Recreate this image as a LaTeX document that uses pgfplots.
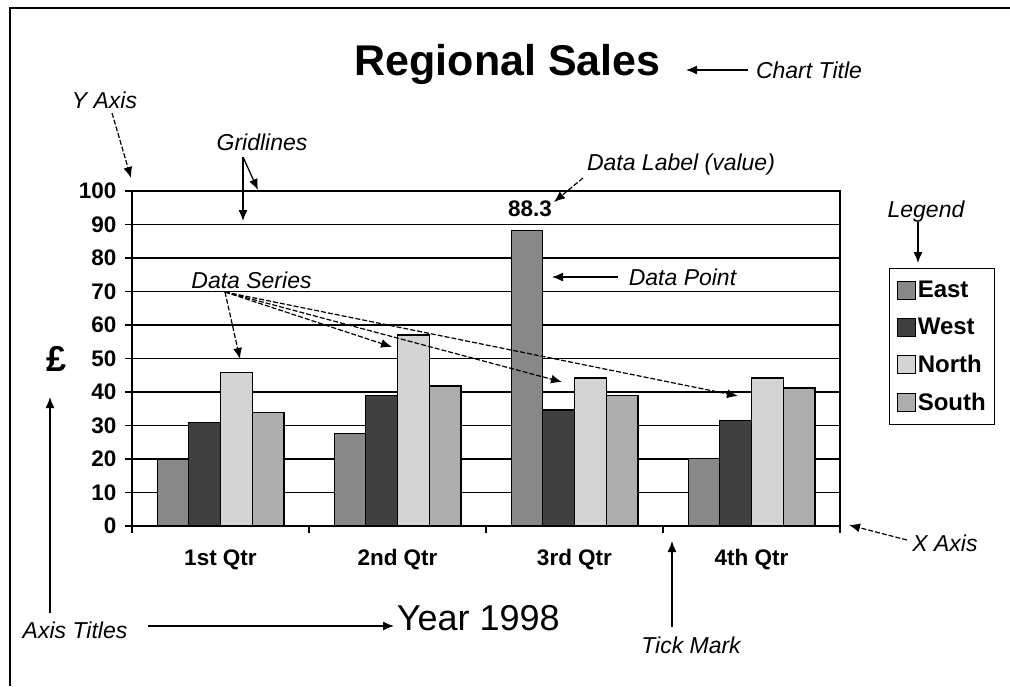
\documentclass[border=0pt]{standalone}
\usepackage{pgfplots}
\pgfplotsset{compat=1.18}
\usepackage{fontspec}
\setmainfont{Liberation Sans}
\usetikzlibrary{arrows.meta}
\definecolor{eastc}{HTML}{888888}
\definecolor{westc}{HTML}{404040}
\definecolor{northc}{HTML}{D4D4D4}
\definecolor{southc}{HTML}{ADADAD}
\newcommand{\ann}{\fontsize{23}{23}\selectfont\itshape}
\newcommand{\lab}{\fontsize{22.5}{22.5}\selectfont\bfseries}
\begin{document}
\begin{tikzpicture}
\useasboundingbox (0pt,0pt) rectangle (1010pt,-686pt);
\begin{axis}[
  at={(132pt,-526pt)}, anchor=south west,
  scale only axis, width=708pt, height=335pt,
  xmin=0, xmax=4, ymin=0, ymax=100,
  ybar=0pt, bar width=31.7pt,
  xtick={0,1,2,3,4},
  xticklabels={1st Qtr,2nd Qtr,3rd Qtr,4th Qtr},
  x tick label as interval,
  ytick={0,10,...,100},
  ymajorgrids,
  grid style={black, line width=1.5pt},
  axis line style={black, line width=1.8pt},
  major tick style={black, line width=1.5pt},
  major tick length=7pt,
  tick align=outside,
  tick pos=left,
  ticklabel style={font=\lab},
  xticklabel style={yshift=-13pt},
  yticklabel style={xshift=-5pt},
  /pgf/number format/assume math mode=true,
  title={Regional Sales},
  title style={font=\fontsize{43}{43}\selectfont\bfseries, at={(axis description cs:0.5304,1.3254)}, anchor=base},
  xlabel={Year 1998},
  xlabel style={font=\fontsize{36}{36}\selectfont, at={(axis description cs:0.489,-0.3105)}, anchor=base},
  ylabel={£},
  ylabel style={rotate=-90, font=\fontsize{36}{36}\selectfont\bfseries, at={(axis description cs:-0.1073,0.4985)}, anchor=center},
  legend style={at={(axis description cs:1.0692,0.7701)}, anchor=north west, draw=black, line width=1.2pt,
    font=\fontsize{24}{24}\selectfont\bfseries, inner xsep=7pt, inner ysep=10.5pt, row sep=15pt,
    /tikz/every even column/.append style={column sep=2pt}},
  legend cell align=left,
  every axis plot post/.append style={legend image code/.code={\draw[#1,line width=1.2pt] (0pt,-9pt) rectangle (18pt,9pt);}},
]
\addplot[fill=eastc, draw=black, line width=1.2pt,
  nodes near coords, point meta=explicit symbolic,
  nodes near coords style={font=\lab, anchor=south, inner sep=0pt, yshift=13pt, xshift=3pt, text=black}]
  coordinates {(0.5,20)[] (1.5,27.5)[] (2.5,88.3)[88.3] (3.5,20.1)[]};
\addplot[fill=westc, draw=black, line width=1.2pt]
  coordinates {(0.5,31.0) (1.5,38.9) (2.5,34.6) (3.5,31.6)};
\addplot[fill=northc, draw=black, line width=1.2pt]
  coordinates {(0.5,45.9) (1.5,57.0) (2.5,44.2) (3.5,44.2)};
\addplot[fill=southc, draw=black, line width=1.2pt]
  coordinates {(0.5,33.9) (1.5,41.8) (2.5,38.9) (3.5,41.2)};
\legend{East,West,North,South}
\end{axis}
\begin{scope}[x=1pt,y=-1pt, font=\ann,
  arr/.style={line width=1.3pt, -{Latex[length=11pt,width=9pt]}},
  darr/.style={line width=1.2pt, dash pattern=on 5pt off 2pt, -{Latex[length=11pt,width=9pt]}}]
\draw[line width=2.5pt] (10,686) -- (10,8) -- (1010,8);
\node at (104.5,100) {Y Axis};
\draw[darr] (112,113) -- (131,178);
\node at (262,142) {Gridlines};
\draw[arr] (243,157) -- (243,221);
\draw[arr] (243,157) -- (258,190);
\node at (809,70.5) {Chart Title};
\draw[arr] (748,70) -- (686,70);
\node at (681,165) {Data Label (value)};
\draw[darr] (583,178) -- (554,202);
\node at (926,212) {Legend};
\draw[arr] (918,222) -- (918,263);
\node at (251.5,280) {Data Series};
\draw[darr] (225,292) -- (240,359);
\draw[darr] (225,292) -- (392,347);
\draw[darr] (225,292) -- (562,382);
\draw[darr] (225,292) -- (738,396);
\node at (682.5,277) {Data Point};
\draw[arr] (618,277) -- (552,277);
\node at (945,543) {X Axis};
\draw[darr] (907,540) -- (849,525);
\node at (691,645) {Tick Mark};
\draw[arr] (672,627) -- (672,541);
\node at (75,630) {Axis Titles};
\draw[arr] (50,613) -- (50,397);
\draw[arr] (148,626) -- (394,626);
\end{scope}
\end{tikzpicture}
\end{document}
